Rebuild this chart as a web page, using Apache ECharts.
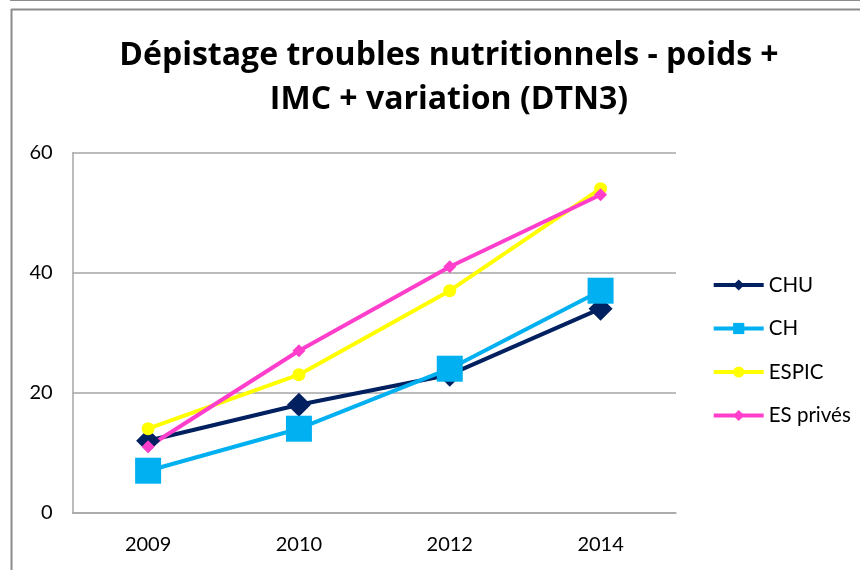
<!DOCTYPE html>
<html>
<head>
<meta charset="utf-8">
<script src="https://cdn.jsdelivr.net/npm/echarts@6/dist/echarts.min.js"></script>
<style>
  html, body { margin: 0; padding: 0; background: #fff; }
  #chart { width: 860px; height: 570px; }
</style>
</head>
<body>
<div id="chart"></div>
<script>
const years = ['2009', '2010', '2012', '2014']
const chu = [12, 18, 23, 34]
const ch = [7, 14, 24, 37]
const espic = [14, 23, 37, 54]
const esPrives = [11, 27, 41, 53]
const yTicks = [0, 20, 40, 60]

const font = 'Lato'
const myChart = echarts.init(document.getElementById('chart'))

myChart.setOption({
  animation: false,
  backgroundColor: '#fff',
  textStyle: { fontFamily: font },
  title: {
    text: 'Dépistage troubles nutritionnels - poids +\nIMC + variation (DTN3)',
    left: 444,
    textAlign: 'center',
    top: 29,
    textStyle: {
      fontFamily: 'Open Sans',
      fontSize: 32,
      fontWeight: 'bold',
      color: '#000',
      lineHeight: 44
    }
  },
  graphic: [
    { type: 'line', shape: { x1: 10, y1: 0.5, x2: 860, y2: 0.5 }, style: { stroke: '#8c8c8c', lineWidth: 1 } },
    { type: 'line', shape: { x1: 11, y1: 9.5, x2: 860, y2: 9.5 }, style: { stroke: '#8c8c8c', lineWidth: 2 } },
    { type: 'line', shape: { x1: 11.5, y1: 9, x2: 11.5, y2: 570 }, style: { stroke: '#8c8c8c', lineWidth: 2 } }
  ],
  legend: {
    orient: 'vertical',
    left: 711.7,
    top: 274.5,
    padding: 0,
    itemWidth: 50,
    itemHeight: 14,
    itemGap: 22.5,
    lineStyle: { width: 4 },
    textStyle: { fontFamily: font, fontSize: 20.5, color: '#000' },
    data: ['CHU', 'CH', 'ESPIC', 'ES privés']
  },
  grid: {
    left: 72.7,
    right: 184,
    top: 152.7,
    bottom: 57.3
  },
  xAxis: {
    type: 'category',
    data: years,
    axisTick: { show: false },
    axisLine: { show: true, lineStyle: { color: '#a6a6a6', width: 1.5 } },
    axisLabel: { fontFamily: font, fontSize: 20, color: '#000', margin: 22 }
  },
  yAxis: {
    type: 'value',
    min: yTicks[0],
    max: yTicks[yTicks.length - 1],
    interval: 20,
    axisTick: { show: false },
    axisLine: { show: true, lineStyle: { color: '#a6a6a6', width: 1.5 } },
    axisLabel: { fontFamily: font, fontSize: 20, color: '#000', margin: 20 },
    splitLine: { show: true, lineStyle: { color: '#a6a6a6', width: 1.5 } }
  },
  series: [
    {
      name: 'CHU',
      type: 'line',
      data: chu,
      color: '#002060',
      lineStyle: { width: 4 },
      symbol: 'diamond',
      symbolSize: 24
    },
    {
      name: 'CH',
      type: 'line',
      data: ch,
      color: '#00B0F0',
      lineStyle: { width: 4 },
      symbol: 'rect',
      symbolSize: 26
    },
    {
      name: 'ESPIC',
      type: 'line',
      data: espic,
      color: '#FFFF00',
      lineStyle: { width: 4 },
      symbol: 'circle',
      symbolSize: 13
    },
    {
      name: 'ES privés',
      type: 'line',
      data: esPrives,
      color: '#FF3FCC',
      lineStyle: { width: 4 },
      symbol: 'diamond',
      symbolSize: 13
    }
  ]
})

window.addEventListener('resize', () => {
  myChart.resize()
})
</script>
</body>
</html>
